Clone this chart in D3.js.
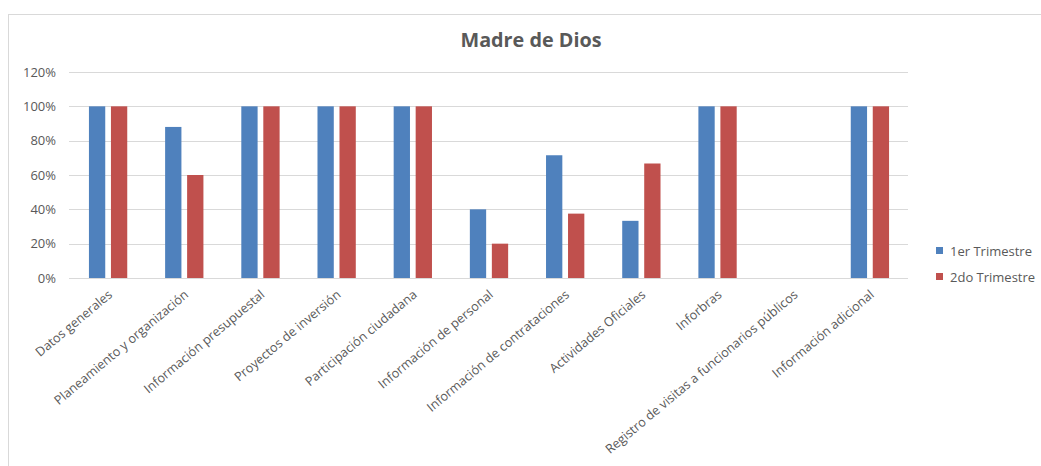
<!DOCTYPE html>
<html>
<head>
<meta charset="utf-8">
<script src="https://cdn.jsdelivr.net/npm/d3@7"></script>
<style>
  html, body { margin: 0; padding: 0; background: #fff; }
  svg { display: block; }
  text { font-family: "Open Sans", "Noto Sans", sans-serif; fill: #595959; }
</style>
</head>
<body>
<svg id="chart" width="1041" height="466"></svg>
<script>
// Categories and the two quarterly series (share of items published)
const categories = [
  "Datos generales",
  "Planeamiento y organización",
  "Información presupuestal",
  "Proyectos de inversión",
  "Participación ciudadana",
  "Información de personal",
  "Información de contrataciones",
  "Actividades Oficiales",
  "Inforbras",
  "Registro de visitas a funcionarios públicos",
  "Información adicional"
];
const seriesNames = ["1er Trimestre", "2do Trimestre"];
const trimestre1 = [1.00, 0.88, 1.00, 1.00, 1.00, 0.40, 0.715, 0.333, 1.00, 0, 1.00];
const trimestre2 = [1.00, 0.60, 1.00, 1.00, 1.00, 0.20, 0.375, 0.667, 1.00, 0, 1.00];
const yTicks = [0, 0.2, 0.4, 0.6, 0.8, 1.0, 1.2];
const colors = ["#4F81BD", "#C0504D"];
const title = "Madre de Dios";

const svg = d3.select("#chart");

// outer chart frame
svg.append("rect")
  .attr("x", 8.5).attr("y", 14.5)
  .attr("width", 1100).attr("height", 500)
  .attr("fill", "none").attr("stroke", "#D9D9D9").attr("stroke-width", 1);

const plot = { left: 70, right: 908, top: 72, bottom: 278 };

const x = d3.scaleBand().domain(categories).range([plot.left, plot.right]);
const y = d3.scaleLinear().domain([0, 1.2]).range([plot.bottom, plot.top]);

// gridlines
svg.append("g").selectAll("line").data(yTicks).join("line")
  .attr("x1", plot.left - 1).attr("x2", plot.right)
  .attr("y1", d => Math.round(y(d)) + 0.5).attr("y2", d => Math.round(y(d)) + 0.5)
  .attr("stroke", "#D9D9D9").attr("stroke-width", 1);

// y axis labels
const yAxis = d3.axisLeft(y).tickValues(yTicks).tickFormat(d3.format(".0%")).tickSize(0).tickPadding(14);
const yg = svg.append("g").attr("transform", `translate(${plot.left},0)`).call(yAxis);
yg.select(".domain").remove();
yg.selectAll("text").style("font-size", "13px").attr("fill", "#595959");

// bars
const barW = 16.3, innerGap = 5.7;
const groupW = barW * 2 + innerGap;
const series = [trimestre1, trimestre2];
series.forEach((vals, si) => {
  svg.append("g").selectAll("rect").data(categories).join("rect")
    .attr("x", (c) => x(c) + x.bandwidth() / 2 - groupW / 2 + si * (barW + innerGap))
    .attr("width", barW)
    .attr("y", (c, i) => y(vals[i]))
    .attr("height", (c, i) => y(0) - y(vals[i]))
    .attr("fill", colors[si]);
});

// x axis category labels, rotated
const xAxis = d3.axisBottom(x).tickSize(0).tickPadding(0);
const xg = svg.append("g").attr("transform", `translate(0,${plot.bottom})`).call(xAxis);
xg.select(".domain").remove();
xg.selectAll(".tick text")
  .style("font-size", "12.7px")
  .attr("fill", "#595959")
  .attr("text-anchor", "end")
  .attr("y", 0).attr("dy", 0)
  .attr("transform", "translate(5,18) rotate(-40)");

// title
svg.append("text")
  .attr("x", 531).attr("y", 47)
  .attr("text-anchor", "middle")
  .style("font-size", "19.8px").style("font-weight", 700)
  .text(title);

// legend
const legend = svg.append("g").attr("transform", "translate(936,245)");
seriesNames.forEach((name, i) => {
  const g = legend.append("g").attr("transform", `translate(0,${i * 26})`);
  g.append("rect").attr("width", 7).attr("height", 7).attr("y", 2).attr("fill", colors[i]);
  g.append("text").attr("x", 14).attr("y", 11).style("font-size", "13px").text(name);
});
</script>
</body>
</html>
